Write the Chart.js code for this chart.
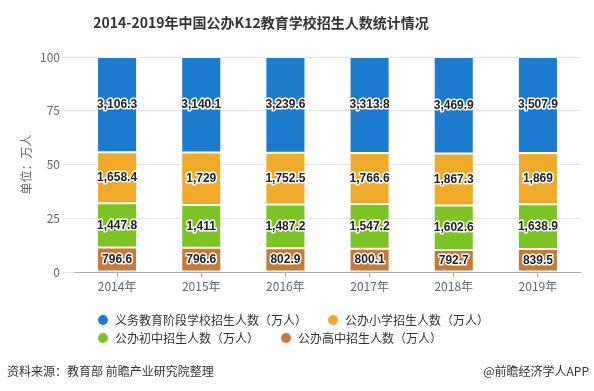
<!DOCTYPE html>
<html>
<head>
<meta charset="utf-8">
<script src="https://cdn.jsdelivr.net/npm/chart.js@4/dist/chart.umd.min.js"></script>
<style>
  html, body { margin:0; padding:0; background:#fff; }
  #wrap { position:relative; width:594px; height:391px; overflow:hidden; font-family:'Noto Sans CJK SC', sans-serif; }
  #c { position:absolute; left:0; top:0; }
  .txt { position:absolute; white-space:nowrap; }
  #title { left:0; width:522px; top:10px; text-align:center; font-weight:bold; font-size:14px; color:#333; line-height:24px; }
  .lg { position:absolute; font-size:12px; color:#333; line-height:16px; white-space:nowrap; }
  .dot { position:absolute; width:10px; height:10px; border-radius:50%; }
  #src { left:7px; top:362px; font-size:12px; color:#333; line-height:18px; }
  #app { right:5px; top:362px; font-size:12px; color:#333; line-height:18px; }
</style>
</head>
<body>
<div id="wrap">
  <canvas id="c" width="594" height="391"></canvas>
  <div id="title" class="txt">2014-2019年中国公办K12教育学校招生人数统计情况</div>
  <div id="legend"></div>
  <div id="src" class="txt">资料来源：教育部 前瞻产业研究院整理</div>
  <div id="app" class="txt">@前瞻经济学人APP</div>
</div>
<script>
const years = ['2014年', '2015年', '2016年', '2017年', '2018年', '2019年'];
const compulsory = [3106.3, 3140.1, 3239.6, 3313.8, 3469.9, 3507.9];
const primary = [1658.4, 1729, 1752.5, 1766.6, 1867.3, 1869];
const junior = [1447.8, 1411, 1487.2, 1547.2, 1602.6, 1638.9];
const senior = [796.6, 796.6, 802.9, 800.1, 792.7, 839.5];
const yTicks = [0, 25, 50, 75, 100];

const names = {
  compulsory: '义务教育阶段学校招生人数（万人）',
  primary: '公办小学招生人数（万人）',
  junior: '公办初中招生人数（万人）',
  senior: '公办高中招生人数（万人）'
};
const colors = {
  compulsory: '#1b7bcf',
  primary: '#f0aa2a',
  junior: '#7cc424',
  senior: '#c97835'
};

const totals = years.map((_, i) => compulsory[i] + primary[i] + junior[i] + senior[i]);
const pct = arr => arr.map((v, i) => v / totals[i] * 100);

const series = [
  { key: 'senior', raw: senior },
  { key: 'junior', raw: junior },
  { key: 'primary', raw: primary },
  { key: 'compulsory', raw: compulsory }
];

const fmt = new Intl.NumberFormat('en-US', { maximumFractionDigits: 1 });

const labelPlugin = {
  id: 'segLabels',
  afterDatasetsDraw(chart) {
    const ctx = chart.ctx;
    ctx.save();
    ctx.font = "bold 12px 'Liberation Sans', Arial, sans-serif";
    ctx.textAlign = 'center';
    ctx.textBaseline = 'middle';
    ctx.lineJoin = 'round';
    chart.data.datasets.forEach((ds, di) => {
      const meta = chart.getDatasetMeta(di);
      meta.data.forEach((el, i) => {
        const txt = fmt.format(ds.raw[i]);
        const y = (el.y + el.base) / 2;
        ctx.lineWidth = 3;
        ctx.strokeStyle = '#fff';
        ctx.strokeText(txt, el.x, y);
        ctx.fillStyle = '#222';
        ctx.fillText(txt, el.x, y);
      });
    });
    ctx.restore();
  }
};

Chart.defaults.font.family = "'Noto Sans CJK SC', sans-serif";

new Chart(document.getElementById('c'), {
  type: 'bar',
  data: {
    labels: years,
    datasets: series.map(s => ({
      label: names[s.key],
      data: pct(s.raw),
      raw: s.raw,
      backgroundColor: colors[s.key],
      borderColor: '#fff',
      borderWidth: 1,
      borderSkipped: false,
      barPercentage: 0.476,
      categoryPercentage: 1
    }))
  },
  options: {
    responsive: false,
    animation: false,
    layout: { padding: { top: 57, left: 0, right: 14, bottom: 97 } },
    plugins: {
      legend: { display: false },
      title: { display: false },
      tooltip: { enabled: false }
    },
    scales: {
      x: {
        stacked: true,
        grid: { drawOnChartArea: false, drawTicks: true, tickLength: 5, offset: false, color: '#aaa' },
        border: { display: true, color: '#aaa' },
        ticks: { color: '#666', font: { size: 12 }, padding: 2 },
        afterFit(scale) { scale.height = 22; }
      },
      y: {
        stacked: true,
        min: 0,
        max: 100,
        afterBuildTicks(scale) { scale.ticks = yTicks.map(v => ({ value: v })); },
        grid: { color: '#e3e3e3', tickLength: 12, drawTicks: true },
        border: { display: false },
        ticks: { color: '#666', font: { size: 12 }, padding: 3 },
        title: { display: true, text: '单位：万人', color: '#666', font: { size: 12 }, padding: { top: 19, bottom: 0 } },
        afterFit(scale) { scale.width = 75; }
      }
    }
  },
  plugins: [labelPlugin]
});

// HTML legend (order as in the reference)
const legendItems = [
  { key: 'compulsory', x: 98, y: 312 },
  { key: 'primary', x: 328, y: 312 },
  { key: 'junior', x: 98, y: 330 },
  { key: 'senior', x: 281, y: 330 }
];
const lg = document.getElementById('legend');
legendItems.forEach(it => {
  const d = document.createElement('div');
  d.className = 'dot';
  d.style.left = it.x + 'px';
  d.style.top = (it.y + 3) + 'px';
  d.style.background = colors[it.key];
  lg.appendChild(d);
  const t = document.createElement('div');
  t.className = 'lg';
  t.style.left = (it.x + 17) + 'px';
  t.style.top = it.y + 'px';
  t.textContent = names[it.key];
  lg.appendChild(t);
});
</script>
</body>
</html>
